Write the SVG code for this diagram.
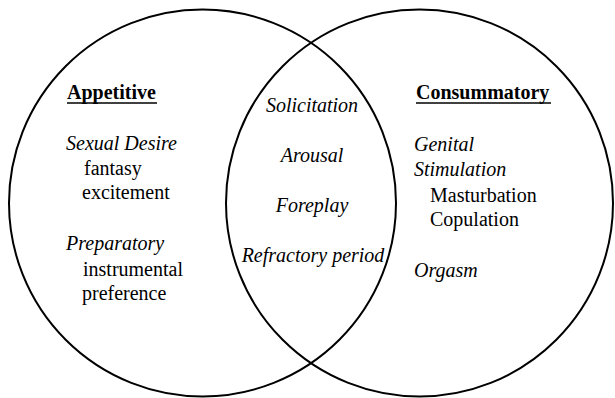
<svg xmlns="http://www.w3.org/2000/svg" width="615" height="398" viewBox="0 0 615 398">
<style>
.c{fill:none;stroke:#000;stroke-width:2}
text{font-family:'Liberation Serif','Times New Roman',serif;font-size:20px;fill:#000}
.b{font-weight:bold}
.i{font-style:italic}
.m{text-anchor:middle}
.u{stroke:#000;stroke-width:1.6}
</style>
<rect width="615" height="398" fill="#fff"/>
<g id="appetitive">
<circle class="c" cx="202.5" cy="203" r="193.5"/>
<text class="b" x="67" y="99">Appetitive</text>
<line class="u" x1="67" y1="103" x2="157" y2="103"/>
<text class="i" x="66" y="150">Sexual Desire</text>
<text x="84" y="175">fantasy</text>
<text x="82" y="199">excitement</text>
<text class="i" x="66" y="250">Preparatory</text>
<text x="83" y="276">instrumental</text>
<text x="82" y="300">preference</text>
</g>
<g id="consummatory">
<circle class="c" cx="419.5" cy="203" r="193.5"/>
<text class="b" x="416" y="99">Consummatory</text>
<line class="u" x1="416" y1="103" x2="551" y2="103"/>
<text class="i" x="414" y="151">Genital</text>
<text class="i" x="414" y="176">Stimulation</text>
<text x="430" y="202">Masturbation</text>
<text x="430" y="226">Copulation</text>
<text class="i" x="414" y="277">Orgasm</text>
</g>
<g id="overlap">
<text class="i m" x="312" y="112">Solicitation</text>
<text class="i m" x="312" y="162">Arousal</text>
<text class="i m" x="312" y="212">Foreplay</text>
<text class="i m" x="313" y="262">Refractory period</text>
</g>
<g id="connectors"/>
</svg>
